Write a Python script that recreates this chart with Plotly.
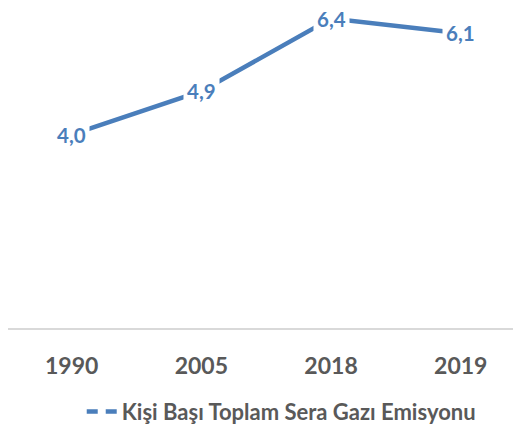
import plotly.graph_objects as go

years = ["1990", "2005", "2018", "2019"]
values = [4.0, 4.9, 6.4, 6.1]
series_name = "Kişi Başı Toplam Sera Gazı Emisyonu"

blue = "#4A7EBB"
gray_text = "#595959"
font_family = "Lato, 'Open Sans', sans-serif"

fig = go.Figure()
fig.add_trace(go.Scatter(
    x=years, y=values, mode="lines",
    line=dict(color=blue, width=4.5),
    showlegend=False, hoverinfo="skip",
))
# legend entry styled like the reference sample
fig.add_trace(go.Scatter(
    x=[years[0]], y=[None], mode="lines", name=series_name,
    line=dict(color=blue, width=4.5, dash="11px,8px,11px"),
    hoverinfo="skip",
))

for i, v in enumerate(values):
    fig.add_annotation(
        x=i, y=v, xref="x", yref="y",
        text=f"<b>{v:.1f}</b>".replace(".", ","),
        showarrow=False, bgcolor="white", borderpad=3,
        font=dict(family=font_family, size=20.5, color=blue),
    )

fig.update_layout(
    width=505, height=425,
    margin=dict(l=0, r=0, t=0, b=105),
    paper_bgcolor="white", plot_bgcolor="white",
    font=dict(family=font_family, color=gray_text),
    xaxis=dict(
        type="category", categoryorder="array", categoryarray=years,
        range=[-0.491, 3.403],
        showgrid=False, zeroline=False,
        showline=True, linecolor="#D9D9D9", linewidth=1.5,
        ticks="", ticklabelstandoff=17,
        tickfont=dict(family=font_family, size=23, color=gray_text, weight="bold"),
    ),
    yaxis=dict(range=[0, 6.62], visible=False, showgrid=False, zeroline=False),
    legend=dict(
        orientation="h", x=0.146, xanchor="left", y=-0.327, yanchor="bottom",
        font=dict(family=font_family, size=22, color=gray_text, weight="bold"),
        itemwidth=30,
    ),
)

fig.write_html("out.html")
